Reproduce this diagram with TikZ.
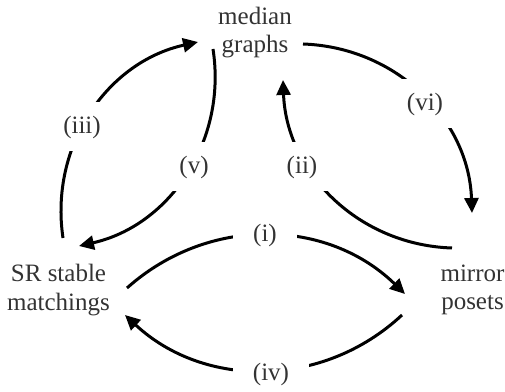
\documentclass[tikz,border=0pt]{standalone}
\usepackage{fontspec}
\setmainfont{Liberation Serif}
\usetikzlibrary{arrows.meta}
\definecolor{txt}{HTML}{333333}
\begin{document}
\begin{tikzpicture}[x=1pt,y=1pt,
  lbl/.style={font=\fontsize{25}{28.5}\selectfont, text=txt, align=center, anchor=base, inner sep=0pt},
  tag/.style={font=\fontsize{25}{28.5}\selectfont, text=txt, fill=white, rectangle, inner xsep=20pt, inner ysep=0pt, minimum height=49pt},
  link/.style={line width=3pt, -{Triangle[length=15pt,width=14pt]}, bend left=43}]
\useasboundingbox (0,0) rectangle (505,391);
% main nodes (base anchor = baseline of the last line)
\node[lbl] (med) at (255,338) {median\\graphs};
\node[lbl] (sr) at (58.5,81) {SR stable\\matchings};
\node[lbl] (mir) at (472.5,81.5) {mirror\\posets};
% connector ends
\coordinate (srA) at (63,153);
\coordinate (medA) at (198,349);
\coordinate (medB) at (213,342);
\coordinate (srB) at (79,145);
\coordinate (mirA) at (452,143);
\coordinate (medC) at (283,311);
\coordinate (medD) at (303,347);
\coordinate (mirB) at (472,178);
\coordinate (srC) at (127,103);
\coordinate (mirC) at (405,97);
\coordinate (mirD) at (402,76);
\coordinate (srD) at (125,76);
% connectors
\draw[link] (srA) to (medA);
\draw[link] (medB) to (srB);
\draw[link] (mirA) to (medC);
\draw[link] (medD) to (mirB);
\draw[link] (srC) to (mirC);
\draw[link] (mirD) to (srD);
% labels
\node[tag] (t1) at (265,156) {(i)};
\node[tag] (t2) at (302,224) {(ii)};
\node[tag] (t3) at (82,264) {(iii)};
\node[tag] (t4) at (271,17) {(iv)};
\node[tag] (t5) at (194,224) {(v)};
\node[tag] (t6) at (425,287) {(vi)};
\end{tikzpicture}
\end{document}
